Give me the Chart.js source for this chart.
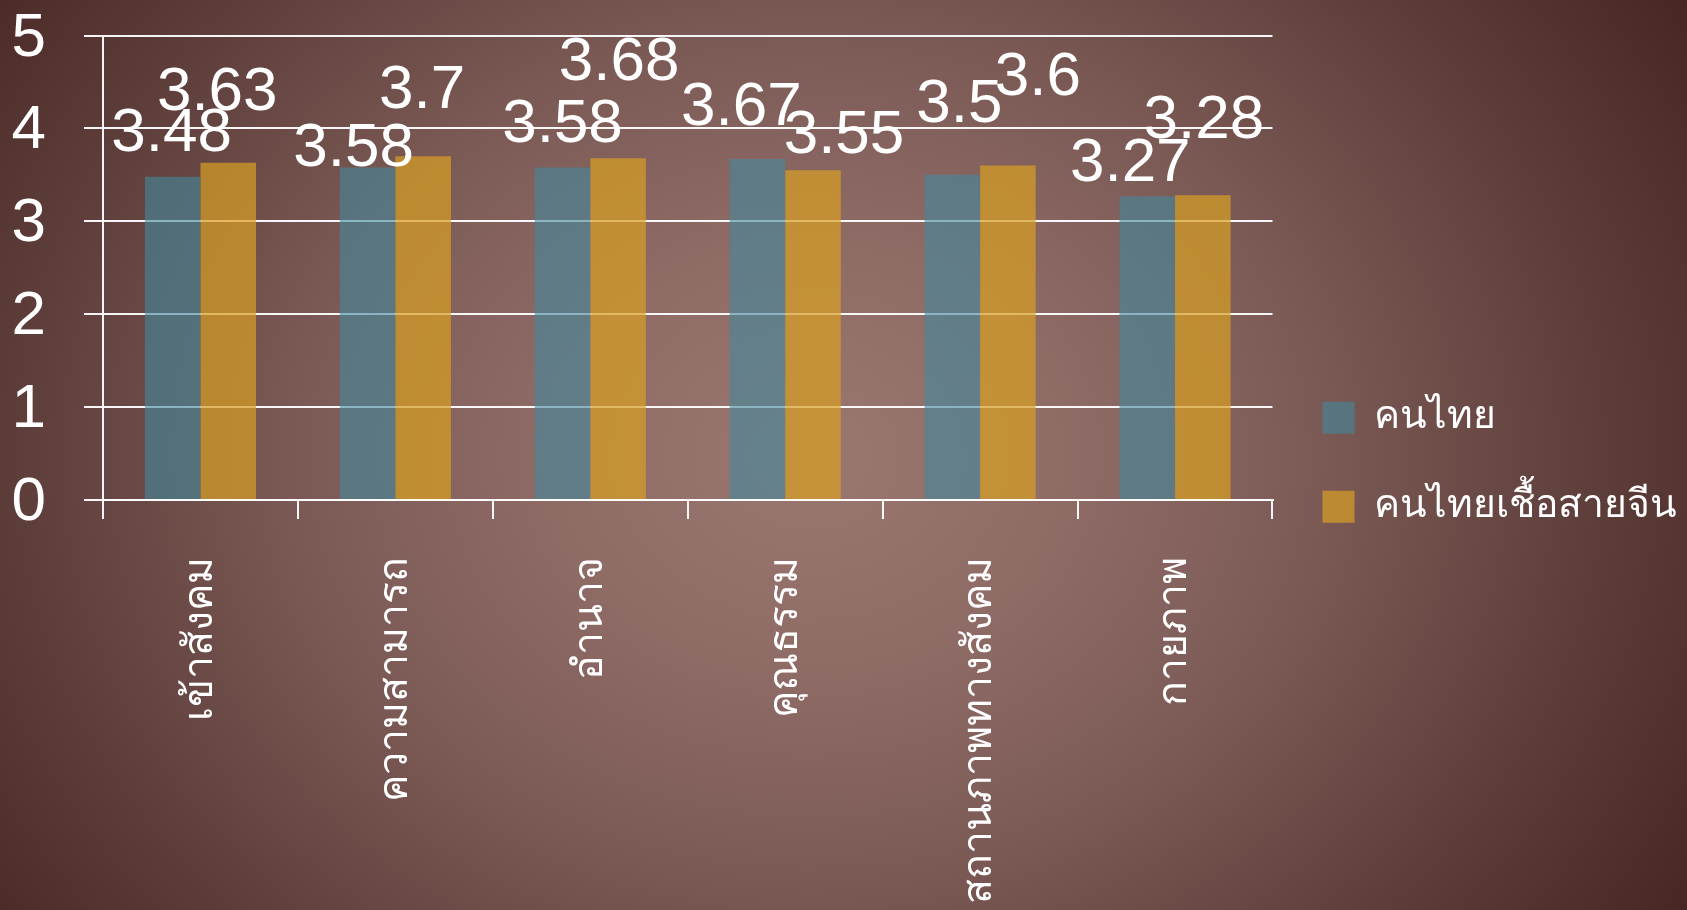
<!DOCTYPE html>
<html lang="th">
<head>
<meta charset="utf-8">
<title>คนไทย / คนไทยเชื้อสายจีน</title>
<script src="https://cdn.jsdelivr.net/npm/chart.js@4/dist/chart.umd.min.js"></script>
<style>
  html, body {
    margin: 0;
    padding: 0;
    width: 1687px;
    height: 910px;
    overflow: hidden;
  }
  body {
    background: radial-gradient(ellipse 62% 95% at 48% 50%,
      #9b7771 0%, #8f6b66 25%, #7a5954 50%, #5e3e3b 75%, #462523 100%);
  }
  #wrap {
    position: absolute;
    left: 0;
    top: 0;
    width: 1687px;
    height: 910px;
  }
</style>
</head>
<body>
<div id="wrap"><canvas id="chart" width="1687" height="910"></canvas></div>
<script>
// Categories (x axis)
const categories = ['เข้าสังคม', 'ความสามารถ', 'อำนาจ', 'คุณธรรม', 'สถานภาพทางสังคม', 'กายภาพ'];

// Series names
const seriesNames = ['คนไทย', 'คนไทยเชื้อสายจีน'];

// Mean scores per category
const thaiScores = [3.48, 3.58, 3.58, 3.67, 3.5, 3.27];
const chineseThaiScores = [3.63, 3.7, 3.68, 3.55, 3.6, 3.28];

// Value axis ticks
const yTickValues = [0, 1, 2, 3, 4, 5];

// Hand placement of the value labels: [horizontal shift, lift above bar top] in px
const labelPlacement = [
  [[-1, 26], [-14, 1], [0, 25], [-16, 34], [7, 53], [-17, 15]],
  [[-11, 53], [-1, 48], [1, 78], [31, 17], [30, 71], [1, 57]]
];

const WHITE = '#ffffff';
const LINE = 'rgba(255,255,255,0.95)';
const NUM_FONT = '"Liberation Sans", Arial, sans-serif';
const THAI_FONT = '"Liberation Sans", "Noto Sans", sans-serif';

// Writes each bar's value above it
const valueLabels = {
  id: 'valueLabels',
  afterDatasetsDraw(chart) {
    const ctx = chart.ctx;
    ctx.save();
    ctx.fillStyle = WHITE;
    ctx.font = '62px ' + NUM_FONT;
    ctx.textAlign = 'center';
    ctx.textBaseline = 'alphabetic';
    chart.data.datasets.forEach((ds, di) => {
      const meta = chart.getDatasetMeta(di);
      meta.data.forEach((bar, i) => {
        const [dx, lift] = labelPlacement[di][i];
        ctx.fillText(String(ds.data[i]), bar.x + dx, bar.y - lift);
      });
    });
    ctx.restore();
  }
};

new Chart(document.getElementById('chart'), {
  type: 'bar',
  data: {
    labels: categories,
    datasets: [
      {
        label: seriesNames[0],
        data: thaiScores,
        backgroundColor: 'rgba(66,137,157,0.6)',
        borderWidth: 0,
        categoryPercentage: 0.57,
        barPercentage: 1.0
      },
      {
        label: seriesNames[1],
        data: chineseThaiScores,
        backgroundColor: 'rgba(217,160,36,0.7)',
        borderWidth: 0,
        categoryPercentage: 0.57,
        barPercentage: 1.0
      }
    ]
  },
  options: {
    responsive: false,
    animation: false,
    devicePixelRatio: 1,
    layout: { padding: 0 },
    plugins: {
      legend: {
        position: 'right',
        title: { display: true, text: '', padding: 0, font: { size: 12 } },
        labels: {
          color: WHITE,
          font: { family: THAI_FONT, size: 39 },
          boxWidth: 32,
          boxHeight: 32,
          padding: 50
        }
      },
      tooltip: { enabled: false },
      title: { display: false }
    },
    scales: {
      x: {
        offset: true,
        grid: {
          display: true,
          drawOnChartArea: false,
          drawTicks: true,
          tickLength: 19,
          color: LINE,
          lineWidth: 2,
          offset: true
        },
        border: { display: true, color: LINE, width: 2 },
        ticks: {
          color: WHITE,
          font: { family: THAI_FONT, size: 41 },
          minRotation: 90,
          maxRotation: 90,
          autoSkip: false,
          padding: 38
        },
        afterFit(scale) {
          scale.height = 410;
          scale.paddingLeft = 0;
          scale.paddingRight = 0;
        }
      },
      y: {
        min: 0,
        max: 5,
        afterBuildTicks(scale) {
          scale.ticks = yTickValues.map(v => ({ value: v }));
        },
        grid: {
          color: LINE,
          lineWidth: 2,
          tickLength: 19,
          drawTicks: true
        },
        border: { display: true, color: LINE, width: 2 },
        ticks: {
          color: WHITE,
          font: { family: NUM_FONT, size: 62, lineHeight: 1.15 },
          padding: 38,
          labelOffset: 3
        },
        afterFit(scale) {
          scale.width = 103;
          scale.paddingTop = 35.5;
          scale.paddingBottom = 0;
        }
      }
    }
  },
  plugins: [valueLabels]
});
</script>
</body>
</html>
